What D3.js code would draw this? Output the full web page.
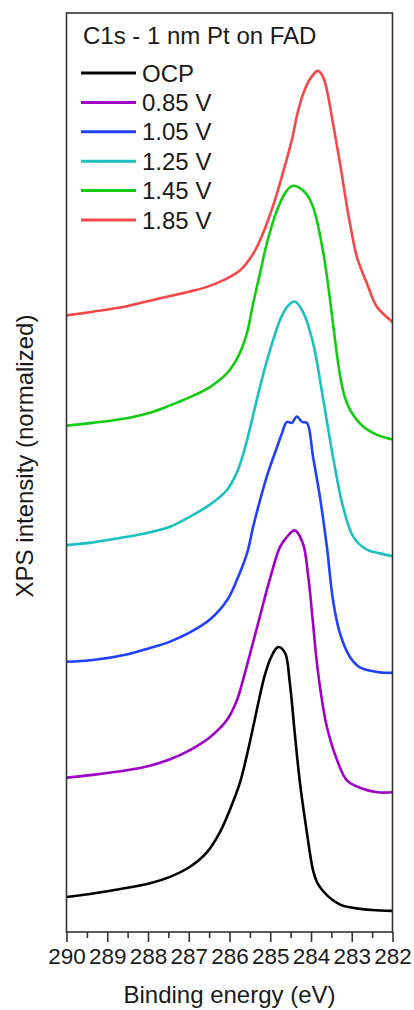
<!DOCTYPE html>
<html>
<head>
<meta charset="utf-8">
<script src="https://cdn.jsdelivr.net/npm/d3@7"></script>
<style>
  html, body { margin: 0; padding: 0; background: #fff; }
  svg { display: block; font-family: "Liberation Sans", Arial, sans-serif; }
</style>
</head>
<body>
<div id="chart"></div>
<script>
// C1s spectra, binding energy (eV) and stacked normalized intensity (a.u.)
const seriesNames = ['OCP', '0.85 V', '1.05 V', '1.25 V', '1.45 V', '1.85 V'];
const seriesColors = ['#000000', '#a000c8', '#2040ff', '#1cc0c0', '#12cc12', '#f54848'];

const ocp = [[290.0,3.8],[289.47,4.1],[288.64,4.7],[287.95,5.3],[287.46,6.0],[286.97,7.1],[286.55,8.7],
  [286.23,10.9],[285.99,13.3],[285.74,16.3],[285.57,19.3],[285.42,22.3],[285.28,25.2],[285.13,28.0],
  [284.98,29.9],[284.81,31.0],[284.64,30.4],[284.52,27.1],[284.40,21.7],[284.27,16.2],[284.10,10.8],
  [283.95,6.7],[283.85,5.4],[283.73,4.6],[283.48,3.5],[283.24,2.9],[282.92,2.6],[282.50,2.4],[282.0,2.3]];

const v085 = [[290.0,16.8],[289.35,17.1],[288.52,17.6],[287.95,18.1],[287.46,18.8],[286.97,19.8],
  [286.48,21.2],[286.06,23.1],[285.82,25.2],[285.67,27.4],[285.50,30.2],[285.25,34.4],[285.01,38.4],
  [284.76,41.9],[284.59,43.0],[284.40,43.7],[284.20,42.3],[284.07,38.8],[283.97,34.5],[283.85,29.1],
  [283.73,25.2],[283.61,22.3],[283.36,18.7],[283.12,16.5],[282.80,15.7],[282.38,15.2],[282.0,15.2]];

const v105 = [[290.0,29.4],[289.35,29.6],[288.52,30.2],[287.95,30.9],[287.46,31.6],[286.97,32.6],
  [286.48,34.0],[286.06,36.1],[285.82,38.3],[285.57,41.2],[285.42,44.1],[285.25,47.0],[285.06,49.9],
  [284.83,52.8],[284.71,54.3],[284.59,55.5],[284.47,55.4],[284.35,56.1],[284.22,55.5],[284.10,55.4],
  [283.95,51.7],[283.78,47.3],[283.61,41.9],[283.46,36.1],[283.29,32.5],[283.04,29.9],[282.80,28.8],
  [282.38,28.3],[282.0,28.2]];

const v125 = [[290.0,42.1],[289.35,42.4],[288.52,43.0],[287.95,43.5],[287.46,44.1],[286.97,45.2],
  [286.48,46.5],[286.06,48.1],[285.82,50.0],[285.67,51.9],[285.57,53.5],[285.33,57.9],[285.08,62.2],
  [284.76,66.6],[284.59,68.0],[284.40,68.6],[284.20,67.5],[283.95,64.1],[283.71,58.2],[283.46,51.7],
  [283.21,46.2],[282.96,43.0],[282.63,41.6],[282.31,41.2],[282.0,40.9]];

const v145 = [[290.0,55.1],[289.35,55.4],[288.52,55.9],[287.95,56.5],[287.46,57.3],[286.97,58.2],
  [286.48,59.3],[286.06,60.8],[285.79,62.6],[285.57,65.2],[285.42,68.4],[285.25,71.7],[285.08,75.0],
  [284.83,78.6],[284.59,80.7],[284.44,81.2],[284.15,80.5],[283.95,78.9],[283.71,74.2],[283.58,70.4],
  [283.44,65.5],[283.29,60.6],[283.17,58.2],[283.04,56.8],[282.72,55.0],[282.38,54.1],[282.0,53.6]];

const v185 = [[290.0,67.1],[289.35,67.5],[288.52,68.1],[287.95,68.7],[287.46,69.2],[286.97,69.7],
  [286.55,70.2],[286.16,70.9],[285.74,72.0],[285.42,73.8],[285.18,76.0],[285.01,78.0],[284.86,80.0],
  [284.69,82.6],[284.47,86.2],[284.32,89.3],[284.15,91.7],[283.98,93.1],[283.83,93.7],[283.71,93.1],
  [283.61,91.6],[283.46,88.0],[283.29,83.7],[283.12,79.0],[282.99,75.8],[282.87,73.4],[282.75,71.9],
  [282.63,70.6],[282.38,68.0],[282.06,66.6],[282.0,66.3]];

const seriesData = [ocp, v085, v105, v125, v145, v185];
const xTicks = [290, 289, 288, 287, 286, 285, 284, 283, 282];
const xMinorTicks = [289.5, 288.5, 287.5, 286.5, 285.5, 284.5, 283.5, 282.5];

const W = 414, H = 1010;
const margin = { top: 13, left: 66.5, right: 21.5, bottom: 78 };
const width = W - margin.left - margin.right;
const height = H - margin.top - margin.bottom;

const svg = d3.select('#chart').append('svg')
  .attr('width', W).attr('height', H);
const g = svg.append('g')
  .attr('transform', `translate(${margin.left},${margin.top})`);

const x = d3.scaleLinear().domain([290, 282]).range([0, width]);
const y = d3.scaleLinear().domain([0, 100]).range([height, 0]);

// curves
const line = d3.line()
  .x(d => x(d[0]))
  .y(d => y(d[1]))
  .curve(d3.curveCatmullRom.alpha(0.5));

g.selectAll('path.spec')
  .data(seriesData)
  .enter().append('path')
  .attr('class', 'spec')
  .attr('d', line)
  .attr('fill', 'none')
  .attr('stroke', (d, i) => seriesColors[i])
  .attr('stroke-width', 2.6)
  .attr('stroke-linejoin', 'round');

// frame
g.append('rect')
  .attr('x', 0).attr('y', 0)
  .attr('width', width).attr('height', height)
  .attr('fill', 'none')
  .attr('stroke', '#333')
  .attr('stroke-width', 1.6);

// x axis with minor ticks
const fontSize = 24;
const xAxis = g.append('g')
  .attr('transform', `translate(0,${height})`)
  .call(d3.axisBottom(x).tickValues(xTicks).tickSize(10).tickFormat(d3.format('d')));
xAxis.select('.domain').remove();
xAxis.selectAll('line').attr('stroke', '#333').attr('stroke-width', 1.6);
xAxis.selectAll('text')
  .attr('y', 32).attr('dy', 0)
  .attr('fill', '#1a1a1a')
  .style('font-size', '22.5px')
  .style('font-family', '"Liberation Sans", Arial, sans-serif');

g.append('g')
  .attr('transform', `translate(0,${height})`)
  .call(d3.axisBottom(x).tickValues(xMinorTicks).tickSize(6).tickFormat(''))
  .call(a => a.select('.domain').remove())
  .selectAll('line').attr('stroke', '#333').attr('stroke-width', 1.6);

// axis titles
svg.append('text')
  .attr('x', margin.left + width / 2).attr('y', 1003)
  .attr('text-anchor', 'middle')
  .attr('fill', '#1a1a1a')
  .style('font-size', fontSize + 'px')
  .text('Binding energy (eV)');

svg.append('text')
  .attr('transform', 'translate(33,456) rotate(-90)')
  .attr('text-anchor', 'middle')
  .attr('fill', '#1a1a1a')
  .style('font-size', fontSize + 'px')
  .text('XPS intensity (normalized)');

// title + legend
svg.append('text')
  .attr('x', 83).attr('y', 43.5)
  .attr('fill', '#1a1a1a')
  .style('font-size', fontSize + 'px')
  .text('C1s - 1 nm Pt on FAD');

const legend = svg.append('g').attr('transform', 'translate(81,73)');
const rows = legend.selectAll('g')
  .data(seriesNames)
  .enter().append('g')
  .attr('transform', (d, i) => `translate(0,${i * 29.4})`);
rows.append('line')
  .attr('x1', 0).attr('x2', 55)
  .attr('stroke', (d, i) => seriesColors[i])
  .attr('stroke-width', 3);
rows.append('text')
  .attr('x', 61).attr('dy', '0.36em')
  .attr('fill', '#1a1a1a')
  .style('font-size', fontSize + 'px')
  .text(d => d);
</script>
</body>
</html>
